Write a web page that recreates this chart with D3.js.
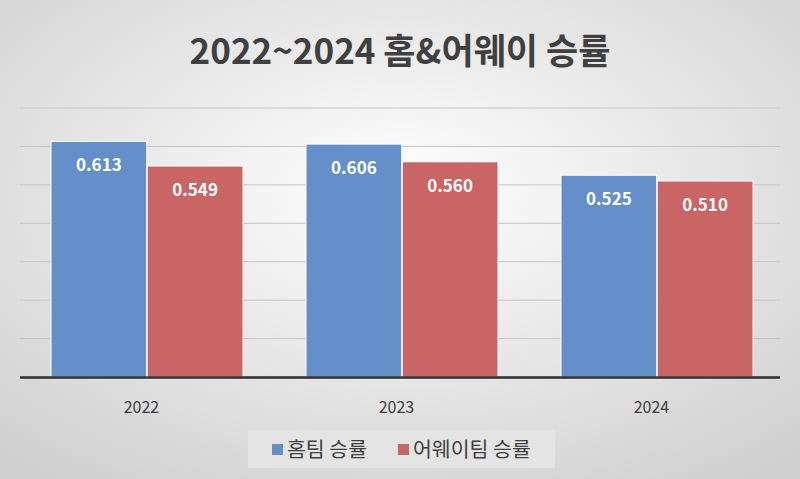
<!DOCTYPE html>
<html><head><meta charset="utf-8">
<script src="https://cdn.jsdelivr.net/npm/d3@7"></script>
<style>body{margin:0}svg{display:block}</style>
</head><body>
<svg id="c" width="800" height="479"></svg>
<script>
// Chart data
var years = ['2022', '2023', '2024'];
var seriesNames = ['홈팀 승률', '어웨이팀 승률'];
var homeRates = [0.613, 0.606, 0.525];
var awayRates = [0.549, 0.560, 0.510];
var yTicks = [0, 0.1, 0.2, 0.3, 0.4, 0.5, 0.6, 0.7];

var colors = ['#658fc8', '#c96565'];
var font = "'Noto Sans CJK KR', 'Noto Sans', sans-serif";
var svg = d3.select('#c');

// Background gradient
var defs = svg.append('defs');
var grad = defs.append('radialGradient').attr('id', 'bg')
  .attr('cx', '50%').attr('cy', '40%').attr('r', '75%');
grad.append('stop').attr('offset', '0%').attr('stop-color', '#ffffff');
grad.append('stop').attr('offset', '100%').attr('stop-color', '#cfcfcf');
svg.append('rect').attr('width', 800).attr('height', 479).attr('fill', 'url(#bg)');

var x0 = d3.scaleBand().domain(years).range([20, 785]);
var x1 = d3.scaleBand().domain([0, 1]).range([31, 223]).paddingInner(0.005);
var y = d3.scaleLinear().domain([0, 0.7]).range([377, 108]);

// Gridlines
svg.append('g').selectAll('line').data(yTicks.slice(1)).join('line')
  .attr('x1', 20).attr('x2', 780)
  .attr('y1', function(d) { return y(d); }).attr('y2', function(d) { return y(d); })
  .attr('stroke', '#c4c4c4').attr('stroke-width', 1);

// Bars
var groups = svg.append('g').selectAll('g').data(years).join('g')
  .attr('transform', function(d) { return 'translate(' + x0(d) + ',0)'; });

groups.each(function(yr, i) {
  var vals = [homeRates[i], awayRates[i]];
  var g = d3.select(this);
  g.selectAll('rect').data(vals).join('rect')
    .attr('x', function(d, j) { return x1(j); })
    .attr('width', x1.bandwidth())
    .attr('y', function(d) { return y(d); })
    .attr('height', function(d) { return y(0) - y(d); })
    .attr('fill', function(d, j) { return colors[j]; })
    .attr('stroke', '#ffffff').attr('stroke-width', 1);
  g.selectAll('text').data(vals).join('text')
    .attr('x', function(d, j) { return x1(j) + x1.bandwidth() / 2; })
    .attr('y', function(d) { return y(d) + 30; })
    .attr('text-anchor', 'middle')
    .attr('fill', '#ffffff').attr('font-family', font)
    .attr('font-size', 17).attr('font-weight', 'bold')
    .text(function(d) { return d.toFixed(3); });
});

// Baseline and x axis labels
svg.append('line').attr('x1', 20).attr('x2', 780).attr('y1', 377.5).attr('y2', 377.5)
  .attr('stroke', '#2e2e2e').attr('stroke-width', 2.5);
svg.append('g').selectAll('text').data(years).join('text')
  .attr('x', function(d) { return x0(d) + x0.bandwidth() / 2 - 6; })
  .attr('y', 413).attr('text-anchor', 'middle')
  .attr('font-family', font).attr('font-size', 16).attr('fill', '#404040')
  .text(function(d) { return d; });

// Title
svg.append('text').attr('x', 400).attr('y', 64).attr('text-anchor', 'middle')
  .attr('font-family', font).attr('font-size', 35).attr('font-weight', 'bold')
  .attr('fill', '#404040').text('2022~2024 홈&어웨이 승률');

// Legend
svg.append('rect').attr('x', 248).attr('y', 430).attr('width', 307).attr('height', 38)
  .attr('fill', '#e4e4e4');
var legendX = [272, 398];
seriesNames.forEach(function(n, i) {
  svg.append('rect').attr('x', legendX[i]).attr('y', 444).attr('width', 11).attr('height', 11)
    .attr('fill', colors[i]);
  svg.append('text').attr('x', legendX[i] + 15).attr('y', 457)
    .attr('font-family', font).attr('font-size', 20.5).attr('fill', '#404040').text(n);
});
</script>
</body></html>
